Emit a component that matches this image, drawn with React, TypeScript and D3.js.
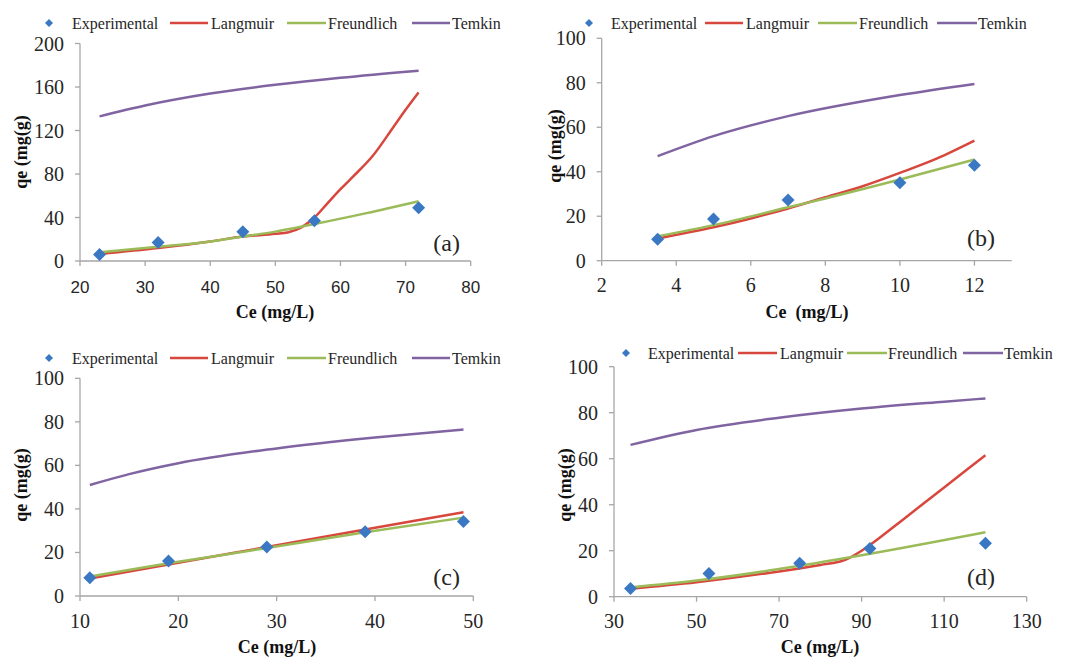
import React from "react";
import * as d3 from "d3";

// ---------- DATA ----------
const legendNames = ["Experimental", "Langmuir", "Freundlich", "Temkin"];

// Panel (a)
const aXTicks = [20, 30, 40, 50, 60, 70, 80];
const aYTicks = [0, 40, 80, 120, 160, 200];
const aExpX = [23, 32, 45, 56, 72];
const aExpY = [6, 17, 27, 37, 49];
const aLangX = [23, 32, 40, 45, 50, 52, 54, 56, 58, 60, 62, 65, 68, 70, 72];
const aLangY = [6.5, 12, 18, 22.5, 25, 26.5, 31, 40, 53, 66, 78, 97, 122, 139, 155];
const aFreuX = [23, 32, 40, 45, 50, 56, 64, 72];
const aFreuY = [8, 13, 18, 22.5, 27, 34, 44, 55];
const aTemkX = [23, 30, 40, 50, 60, 72];
const aTemkY = [133, 143, 154, 162, 168.5, 175];

// Panel (b)
const bXTicks = [2, 4, 6, 8, 10, 12];
const bYTicks = [0, 20, 40, 60, 80, 100];
const bExpX = [3.5, 5, 7, 10, 12];
const bExpY = [9.6, 18.7, 27.3, 35, 42.9];
const bLangX = [3.5, 5, 6, 7, 8, 9, 10, 11, 12];
const bLangY = [10, 15, 19, 23.5, 28.5, 33.5, 39.5, 46, 54];
const bFreuX = [3.5, 5, 7, 8, 10, 12];
const bFreuY = [11, 16, 24, 28, 36.5, 45.5];
const bTemkX = [3.5, 5, 7, 10, 12];
const bTemkY = [47, 56, 65, 74.5, 79.5];

// Panel (c)
const cXTicks = [10, 20, 30, 40, 50];
const cYTicks = [0, 20, 40, 60, 80, 100];
const cExpX = [11, 19, 29, 39, 49];
const cExpY = [8.4, 16.1, 22.5, 29.5, 34.2];
const cLangX = [11, 19, 29, 39, 49];
const cLangY = [8, 14.5, 22.5, 30.5, 38.5];
const cFreuX = [11, 19, 29, 39, 49];
const cFreuY = [9, 15, 22, 29.3, 36];
const cTemkX = [11, 15, 20, 30, 40, 49];
const cTemkY = [51, 56, 61, 67.8, 72.8, 76.5];

// Panel (d)
const dXTicks = [30, 50, 70, 90, 110, 130];
const dYTicks = [0, 20, 40, 60, 80, 100];
const dExpX = [34, 53, 75, 92, 120];
const dExpY = [3.6, 10.1, 14.5, 21, 23.2];
const dLangX = [34, 50, 70, 80, 86, 90, 95, 100, 105, 110, 120];
const dLangY = [3.5, 6.3, 11, 13.8, 16, 20, 26.5, 33.5, 40.5, 47.5, 61.5];
const dFreuX = [34, 50, 70, 90, 120];
const dFreuY = [4, 7, 12, 18, 28];
const dTemkX = [34, 50, 70, 90, 110, 120];
const dTemkY = [66, 72.5, 77.8, 81.8, 84.8, 86.2];

// ---------- STYLE / LAYOUT ----------
const COL_EXP = "#3B78C3";
const COL_LANG = "#D8473D";
const COL_FREU = "#9BBB59";
const COL_TEMK = "#8064A2";
const AXIS_COL = "#A6A6A6";
const SERIF = "Liberation Serif, Times New Roman, serif";
const SANS = "Liberation Sans, Arial, sans-serif";

const zip = (xs: number[], ys: number[]) => xs.map((x, i) => [x, ys[i]] as [number, number]);

type PanelCfg = {
  tag: string;
  xDomain: [number, number];
  yDomain: [number, number];
  xTicks: number[];
  yTicks: number[];
  exp: [number, number][];
  lang: [number, number][];
  freu: [number, number][];
  temk: [number, number][];
  box: { l: number; r: number; t: number; b: number };
  xTickFont: string;
  xTickSize: number;
  xTickBaseline: number;
  xLabel: string;
  xLabelPos: [number, number];
  yLabelPos: [number, number];
  tagPos: [number, number];
  legendY: number;
  legendDiamondX: number;
  legendTextX: number[];
  legendLines: [number, number][];
};

const panels: PanelCfg[] = [
  {
    tag: "(a)",
    xDomain: [20, 80],
    yDomain: [0, 200],
    xTicks: aXTicks,
    yTicks: aYTicks,
    exp: zip(aExpX, aExpY),
    lang: zip(aLangX, aLangY),
    freu: zip(aFreuX, aFreuY),
    temk: zip(aTemkX, aTemkY),
    box: { l: 80, r: 470.7, t: 43.5, b: 261 },
    xTickFont: SANS,
    xTickSize: 17,
    xTickBaseline: 293,
    xLabel: "Ce (mg/L)",
    xLabelPos: [275, 318],
    yLabelPos: [27, 152],
    tagPos: [460, 251],
    legendY: 23,
    legendDiamondX: 49,
    legendTextX: [72, 211, 328, 452],
    legendLines: [[170, 208], [287, 326], [412, 450]],
  },
  {
    tag: "(b)",
    xDomain: [2, 13],
    yDomain: [0, 100],
    xTicks: bXTicks,
    yTicks: bYTicks,
    exp: zip(bExpX, bExpY),
    lang: zip(bLangX, bLangY),
    freu: zip(bFreuX, bFreuY),
    temk: zip(bTemkX, bTemkY),
    box: { l: 601.7, r: 1011.7, t: 38.3, b: 260.7 },
    xTickFont: SERIF,
    xTickSize: 20,
    xTickBaseline: 291.5,
    xLabel: "Ce  (mg/L)",
    xLabelPos: [807, 318],
    yLabelPos: [561, 146],
    tagPos: [995, 246],
    legendY: 23,
    legendDiamondX: 589,
    legendTextX: [611, 746, 859, 978],
    legendLines: [[705, 743], [818, 857], [937, 977]],
  },
  {
    tag: "(c)",
    xDomain: [10, 50],
    yDomain: [0, 100],
    xTicks: cXTicks,
    yTicks: cYTicks,
    exp: zip(cExpX, cExpY),
    lang: zip(cLangX, cLangY),
    freu: zip(cFreuX, cFreuY),
    temk: zip(cTemkX, cTemkY),
    box: { l: 80, r: 473.3, t: 378.3, b: 596 },
    xTickFont: SERIF,
    xTickSize: 20,
    xTickBaseline: 628,
    xLabel: "Ce (mg/L)",
    xLabelPos: [277, 653],
    yLabelPos: [27, 485],
    tagPos: [460, 585],
    legendY: 358,
    legendDiamondX: 49,
    legendTextX: [72, 211, 328, 452],
    legendLines: [[170, 208], [287, 326], [412, 450]],
  },
  {
    tag: "(d)",
    xDomain: [30, 130],
    yDomain: [0, 100],
    xTicks: dXTicks,
    yTicks: dYTicks,
    exp: zip(dExpX, dExpY),
    lang: zip(dLangX, dLangY),
    freu: zip(dFreuX, dFreuY),
    temk: zip(dTemkX, dTemkY),
    box: { l: 614, r: 1026.7, t: 366.7, b: 596.7 },
    xTickFont: SERIF,
    xTickSize: 20,
    xTickBaseline: 628,
    xLabel: "Ce (mg/L)",
    xLabelPos: [820, 653],
    yLabelPos: [571, 485],
    tagPos: [995, 585],
    legendY: 353,
    legendDiamondX: 626,
    legendTextX: [648, 780, 888, 1004],
    legendLines: [[738, 777], [847, 887], [963, 1003]],
  },
];

const diamond = (cx: number, cy: number, r: number) =>
  `M${cx},${cy - r}L${cx + r},${cy}L${cx},${cy + r}L${cx - r},${cy}Z`;

function Panel({ p }: { p: PanelCfg }) {
  const x = d3.scaleLinear().domain(p.xDomain).range([p.box.l, p.box.r]);
  const y = d3.scaleLinear().domain(p.yDomain).range([p.box.b, p.box.t]);
  const line = d3
    .line<[number, number]>()
    .x((d) => x(d[0]))
    .y((d) => y(d[1]))
    .curve(d3.curveMonotoneX);
  const lineColors = [COL_LANG, COL_FREU, COL_TEMK];
  return (
    <g>
      {/* axes */}
      <line x1={p.box.l} x2={p.box.l} y1={p.box.t} y2={p.box.b} stroke={AXIS_COL} strokeWidth={1.3} />
      <line x1={p.box.l} x2={p.box.r} y1={p.box.b} y2={p.box.b} stroke={AXIS_COL} strokeWidth={1.3} />
      {p.yTicks.map((t) => (
        <g key={"y" + t}>
          <line x1={p.box.l - 5} x2={p.box.l} y1={y(t)} y2={y(t)} stroke={AXIS_COL} strokeWidth={1.3} />
          <text
            x={p.box.l - 16}
            y={y(t)}
            dy="0.35em"
            textAnchor="end"
            fontFamily={SERIF}
            fontSize={20}
            fill="#262626"
          >
            {t}
          </text>
        </g>
      ))}
      {p.xTicks.map((t) => (
        <g key={"x" + t}>
          <line x1={x(t)} x2={x(t)} y1={p.box.b} y2={p.box.b + 5} stroke={AXIS_COL} strokeWidth={1.3} />
          <text
            x={x(t)}
            y={p.xTickBaseline}
            textAnchor="middle"
            fontFamily={p.xTickFont}
            fontSize={p.xTickSize}
            fill="#262626"
          >
            {t}
          </text>
        </g>
      ))}
      {/* axis titles */}
      <text
        x={p.xLabelPos[0]}
        y={p.xLabelPos[1]}
        textAnchor="middle"
        fontFamily={SERIF}
        fontWeight="bold"
        fontSize={18}
        fill="#111"
        style={{ whiteSpace: "pre" }}
      >
        {p.xLabel}
      </text>
      <text
        transform={`translate(${p.yLabelPos[0]},${p.yLabelPos[1]}) rotate(-90)`}
        textAnchor="middle"
        fontFamily={SERIF}
        fontWeight="bold"
        fontSize={18}
        fill="#111"
      >
        qe (mg(g)
      </text>
      {/* series lines */}
      {[p.lang, p.freu, p.temk].map((s, i) => (
        <path key={"l" + i} d={line(s) || ""} fill="none" stroke={lineColors[i]} strokeWidth={2.5} />
      ))}
      {/* experimental */}
      {p.exp.map((d, i) => (
        <path key={"e" + i} d={diamond(x(d[0]), y(d[1]), 6.5)} fill={COL_EXP} />
      ))}
      {/* tag */}
      <text x={p.tagPos[0]} y={p.tagPos[1]} textAnchor="end" fontFamily={SERIF} fontSize={24} fill="#262626">
        {p.tag}
      </text>
      {/* legend */}
      <path d={diamond(p.legendDiamondX, p.legendY, 4)} fill={COL_EXP} />
      {p.legendLines.map((l, i) => (
        <line
          key={"ll" + i}
          x1={l[0]}
          x2={l[1]}
          y1={p.legendY}
          y2={p.legendY}
          stroke={lineColors[i]}
          strokeWidth={2.5}
        />
      ))}
      {legendNames.map((n, i) => (
        <text
          key={"lt" + i}
          x={p.legendTextX[i]}
          y={p.legendY}
          dy="0.35em"
          fontFamily={SERIF}
          fontSize={16}
          fill="#262626"
        >
          {n}
        </text>
      ))}
    </g>
  );
}

export default function App() {
  return (
    <div style={{ position: "absolute", left: 0, top: 0 }}>
      <svg width={1070} height={657} style={{ display: "block", background: "#fff" }}>
        {panels.map((p) => (
          <Panel key={p.tag} p={p} />
        ))}
      </svg>
    </div>
  );
}
